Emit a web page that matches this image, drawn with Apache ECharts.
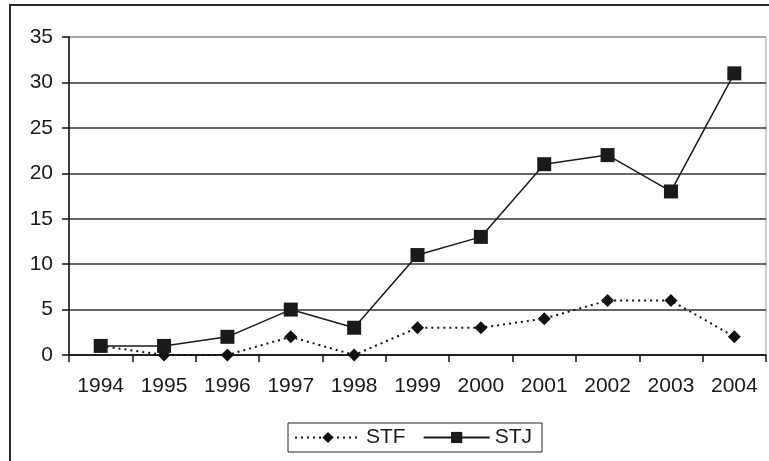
<!DOCTYPE html>
<html>
<head>
<meta charset="utf-8">
<script src="https://cdn.jsdelivr.net/npm/echarts@6/dist/echarts.min.js"></script>
<style>
  html, body { margin: 0; padding: 0; background: #fff; }
  #chart { width: 769px; height: 461px; }
</style>
</head>
<body>
<div id="chart"></div>
<script>
// Yearly counts for the two courts
const years = ['1994', '1995', '1996', '1997', '1998', '1999', '2000', '2001', '2002', '2003', '2004'];
const stf = [1, 0, 0, 2, 0, 3, 3, 4, 6, 6, 2];
const stj = [1, 1, 2, 5, 3, 11, 13, 21, 22, 18, 31];
const yTicks = [0, 5, 10, 15, 20, 25, 30, 35];

const font = 'Liberation Sans, Arial, sans-serif';
const ink = '#1a1a1a';

const chart = echarts.init(document.getElementById('chart'), null, { renderer: 'canvas' });

chart.setOption({
  animation: false,
  backgroundColor: '#fff',
  graphic: [{
    type: 'rect',
    shape: { x: 10, y: 5, width: 800, height: 500 },
    style: { fill: 'none', stroke: '#2a2a2a', lineWidth: 2 },
    silent: true
  }],
  grid: {
    left: 69, right: 3, top: 37, bottom: 106,
    show: true, borderColor: '#9a9a9a', borderWidth: 1, backgroundColor: 'transparent'
  },
  legend: {
    data: ['STF', 'STJ'],
    left: 288, top: 423,
    orient: 'horizontal',
    itemWidth: 66, itemHeight: 14, itemGap: 17,
    padding: [4, 10, 4, 6],
    borderColor: '#222', borderWidth: 1,
    textStyle: { fontFamily: font, fontSize: 21, color: ink },
    inactiveColor: '#ccc'
  },
  xAxis: {
    type: 'category',
    data: years,
    boundaryGap: true,
    axisLine: { show: true, lineStyle: { color: '#111', width: 1.5 } },
    axisTick: { show: true, inside: false, length: 7, alignWithLabel: false, lineStyle: { color: '#111', width: 1.5 } },
    axisLabel: { fontFamily: font, fontSize: 21, color: ink, margin: 21, interval: 0 },
    splitLine: { show: false }
  },
  yAxis: {
    type: 'value',
    min: yTicks[0], max: yTicks[yTicks.length - 1], interval: 5,
    axisLine: { show: true, lineStyle: { color: '#111', width: 1.5 } },
    axisTick: { show: true, inside: false, length: 7, lineStyle: { color: '#111', width: 1.5 } },
    axisLabel: { fontFamily: font, fontSize: 21, color: ink, margin: 16 },
    splitLine: {
      show: true,
      lineStyle: {
        color: ['#333', '#333', '#333', '#333', '#333', '#333', '#333', '#9a9a9a'],
        width: 1.5
      }
    }
  },
  series: [
    {
      name: 'STF',
      type: 'line',
      data: stf,
      symbol: 'diamond',
      symbolSize: 13,
      showAllSymbol: true,
      itemStyle: { color: '#111' },
      lineStyle: { color: '#111', width: 2, type: [2, 4] },
      z: 2
    },
    {
      name: 'STJ',
      type: 'line',
      data: stj,
      symbol: 'rect',
      symbolSize: 14,
      showAllSymbol: true,
      itemStyle: { color: '#1a1a1a' },
      lineStyle: { color: '#1a1a1a', width: 1.5, type: 'solid' },
      z: 3
    }
  ]
});
</script>
</body>
</html>
